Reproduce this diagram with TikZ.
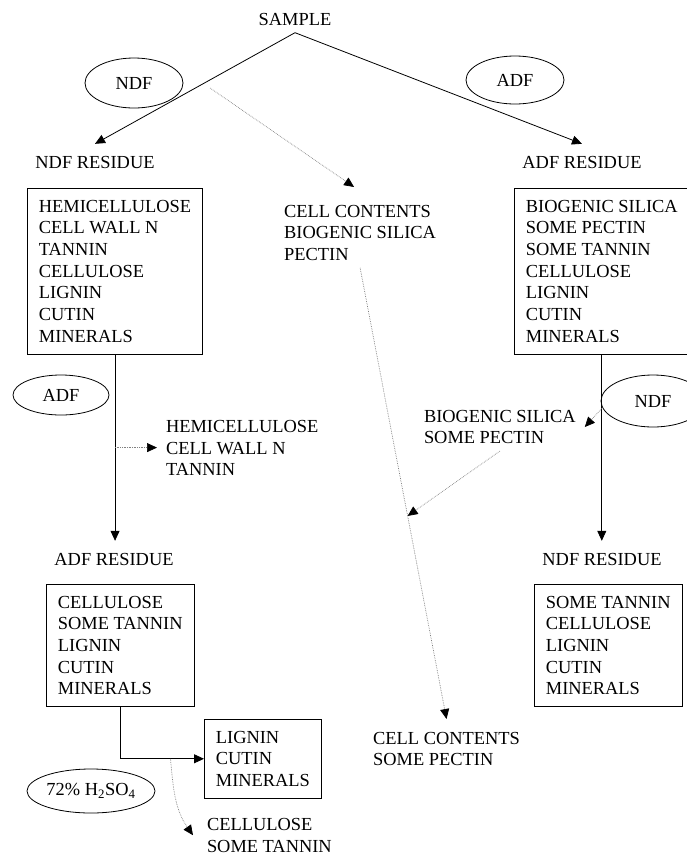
\documentclass[tikz,border=0pt]{standalone}
\usepackage{fontspec}
\setmainfont{Liberation Serif}
\usetikzlibrary{shapes.geometric, arrows.meta, positioning}

\tikzset{
  every node/.style={font=\fontsize{18.4}{21.7}\selectfont},
  fracbox/.style={draw, line width=0.8pt, align=left, inner sep=11.5pt, anchor=north west},
  reagent/.style={draw, ellipse, line width=0.8pt, inner sep=0pt},
  residue/.style={inner sep=0pt, outer ysep=12pt},
  solubles/.style={align=left, inner sep=0pt, anchor=north west},
  flow/.style={line width=0.8pt, -{Triangle[length=10pt,width=9pt]}},
  loss/.style={gray, densely dotted, line width=0.7pt, -{Triangle[length=10pt,width=9pt,color=black]}}
}

\begin{document}
\begin{tikzpicture}[x=1pt, y=-1pt]
  \useasboundingbox (0,0) rectangle (687,855);

  % --- first split: NDF and ADF ---
  \node[inner sep=0pt, outer ysep=7pt] (sample) at (295,19.5) {SAMPLE};
  \node[reagent, minimum width=98pt, minimum height=50pt] (ndfA) at (134,83) {NDF};
  \node[reagent, minimum width=98pt, minimum height=48pt] (adfA) at (515,80) {ADF};
  \node[residue] (ndfres) at (95,162) {NDF RESIDUE};
  \node[residue] (adfres) at (582,162) {ADF RESIDUE};
  \draw[flow] (sample.south) -- (ndfres.north);
  \draw[flow] (sample.south) -- (adfres.north);

  \node[fracbox] (ndfbox) at (27,188) {HEMICELLULOSE\\CELL WALL N\\TANNIN\\CELLULOSE\\LIGNIN\\CUTIN\\MINERALS};
  \node[fracbox] (adfbox) at (514,188) {BIOGENIC SILICA\\SOME PECTIN\\SOME TANNIN\\CELLULOSE\\LIGNIN\\CUTIN\\MINERALS};
  \node[solubles, outer ysep=7pt] (cellA) at (284,198) {CELL CONTENTS\\BIOGENIC SILICA\\PECTIN};
  \coordinate (ndfcut) at (210,88);
  \draw[loss] (ndfcut) -- ([shift={(-6pt,11pt)}]cellA.north);

  % --- NDF residue, then ADF ---
  \node[residue] (adfres2) at (114,559) {ADF RESIDUE};
  \draw[flow] (ndfbox.south) -- coordinate[pos=0.5] (adfcut) (ndfbox.south |- adfres2.north);
  \node[reagent, minimum width=96pt, minimum height=40pt] (adfB) at (61,395) {ADF};
  \node[solubles, outer xsep=9pt] (hemi) at (157,420) {HEMICELLULOSE\\CELL WALL N\\TANNIN};
  \draw[loss] (adfcut) -- (adfcut -| hemi.west);

  \node[fracbox] (adfbox2) at (46,584) {CELLULOSE\\SOME TANNIN\\LIGNIN\\CUTIN\\MINERALS};
  \node[fracbox] (ligbox) at (204,719) {LIGNIN\\CUTIN\\MINERALS};
  \draw[flow] (adfbox2.south) |- coordinate[pos=0.8] (acidcut) (ligbox.west);
  \node[reagent, minimum width=128pt, minimum height=44pt] (acid) at (91,791) {72\% H\textsubscript{2}SO\textsubscript{4}};
  \node[solubles, outer xsep=14pt] (cellu) at (193,818) {CELLULOSE\\SOME TANNIN};
  \draw[loss] (acidcut) to[out=-85, in=125] (cellu.west);

  % --- ADF residue, then NDF ---
  \node[residue] (ndfres2) at (602,559) {NDF RESIDUE};
  \draw[flow] (adfbox.south) -- coordinate[pos=0.29] (ndfcut2) (adfbox.south |- ndfres2.north);
  \node[reagent, minimum width=104pt, minimum height=52pt] (ndfB) at (653,401) {NDF};
  \node[solubles, outer xsep=9pt, outer ysep=7pt] (bio) at (415,403) {BIOGENIC SILICA\\SOME PECTIN};
  \draw[loss] (ndfcut2) -- (bio.east);

  \node[fracbox] (ndfbox2) at (534,584) {SOME TANNIN\\CELLULOSE\\LIGNIN\\CUTIN\\MINERALS};
  \node[solubles, outer ysep=13pt] (cellB) at (373,719) {CELL CONTENTS\\SOME PECTIN};
  \draw[loss] (cellA.south) -- coordinate[pos=0.55] (pectin) (cellB.north);
  \draw[loss] (bio.south) -- (pectin);
\end{tikzpicture}
\end{document}
